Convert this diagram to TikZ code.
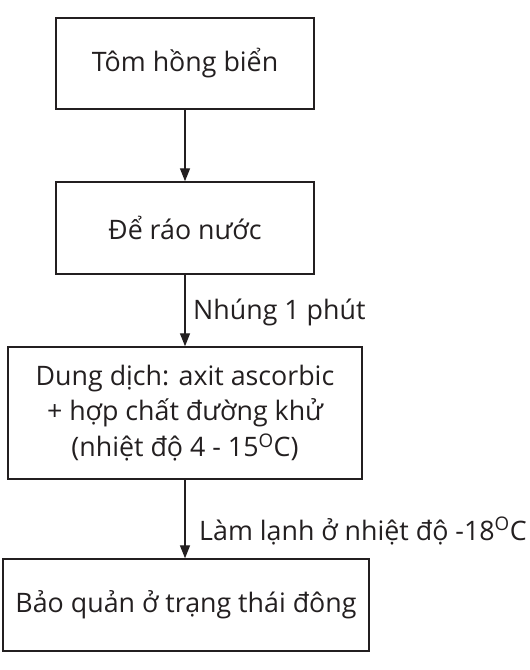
\documentclass[tikz,border=0pt]{standalone}
\usepackage{fontspec}
\setmainfont{Open Sans}
\usetikzlibrary{arrows.meta}
\definecolor{ink}{HTML}{231F20}
\begin{document}
\begin{tikzpicture}[x=1pt,y=1pt,
  box/.style={draw=ink,line width=1.4pt,text=ink,inner sep=0pt,align=center,font=\fontsize{26.8}{35.5}\selectfont},
  lbl/.style={text=ink,inner sep=0pt,font=\fontsize{26.8}{35.5}\selectfont,anchor=base west},
  conn/.style={draw=ink,line width=1.3pt,-{Triangle[length=13pt,width=10pt]}}]
\useasboundingbox (0,0) rectangle (530,-670);
\node[box,minimum width=258pt,minimum height=91pt] (b1) at (185,-63.5) {Tôm hồng biển};
\node[box,minimum width=258pt,minimum height=92pt] (b2) at (185,-228) {Để ráo nước};
\node[box,minimum width=354pt,minimum height=132pt] (b3) at (185,-413) {Dung dịch: axit ascorbic\\+ hợp chất đường khử\\(nhiệt độ 4 - 15\textsuperscript{O}C)};
\node[box,minimum width=366pt,minimum height=92pt] (b4) at (186,-605) {Bảo quản ở trạng thái đông};
\draw[conn] (b1.south) -- (b2.north);
\draw[conn] (b2.south) -- (b3.north);
\draw[conn] (b3.south) -- (b3.south |- b4.north);
\node[lbl] (l1) at (193,-319) {Nhúng 1 phút};
\node[lbl] (l2) at (199,-540) {Làm lạnh ở nhiệt độ -18\textsuperscript{O}C};
\end{tikzpicture}
\end{document}
